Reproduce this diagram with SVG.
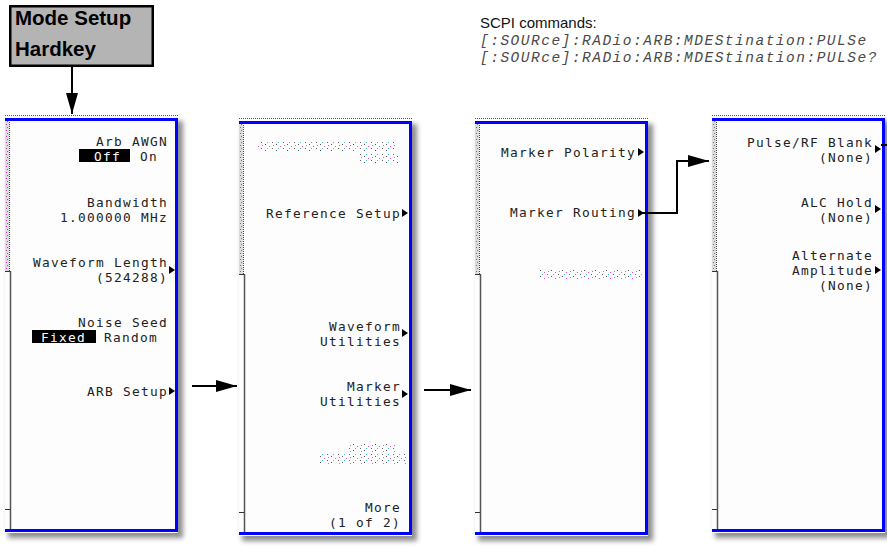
<svg xmlns="http://www.w3.org/2000/svg" width="887" height="546" viewBox="0 0 887 546">
<style>
.k{font-family:"DejaVu Sans Mono","Liberation Mono",monospace;font-size:12.8px;letter-spacing:1.3px;fill:#222;text-anchor:end}
.s{text-anchor:start}
.inv{fill:#fff}
.hk{font-family:"Liberation Sans",Arial,sans-serif;font-weight:bold;font-size:20.5px;fill:#000}
.scpi{font-family:"Liberation Sans",Arial,sans-serif;font-size:15px;fill:#111}
.cmd{font-family:"Liberation Mono","Courier New",monospace;font-style:italic;font-size:14.5px;letter-spacing:1.5px;fill:#4a4a4a}
.conn{fill:none;stroke:#000;stroke-width:2}
</style>
<defs>
<filter id="blur" x="-10%" y="-10%" width="120%" height="120%"><feGaussianBlur stdDeviation="2.5"/></filter>
<pattern id="dots" width="4" height="6" patternUnits="userSpaceOnUse">
<rect width="4" height="6" fill="#dcdcdc"/>
<rect x="1" y="0" width="1" height="1" fill="#c040c0"/>
<rect x="2" y="3" width="1" height="1" fill="#40a040"/>
</pattern>
<pattern id="garble" width="11" height="6" patternUnits="userSpaceOnUse">
<rect x="1" y="0" width="1" height="1" fill="#555"/>
<rect x="5" y="2" width="1" height="1" fill="#e050e0"/>
<rect x="9" y="1" width="1" height="1" fill="#50c050"/>
<rect x="3" y="4" width="1" height="1" fill="#40c8c8"/>
<rect x="8" y="4" width="1" height="1" fill="#666"/>
</pattern>
<path id="tri" d="M0 -4 L6 0 L0 4 Z" fill="#000"/>
<g id="frame">
<rect x="3" y="3" width="175" height="417" fill="#666" opacity="0.75" filter="url(#blur)"/>
<rect x="0" y="-3" width="173" height="418" fill="#fdfdfd"/>
<line x1="0" y1="-2.5" x2="173" y2="-2.5" stroke="#555" stroke-dasharray="1 1"/>
<rect x="0" y="0" width="4" height="153" fill="url(#dots)"/>
<line x1="4.5" y1="0" x2="4.5" y2="153" stroke="#444" stroke-dasharray="1 1"/>
<line x1="5.5" y1="153" x2="5.5" y2="413" stroke="#555" stroke-width="1.5"/>
<line x1="0" y1="153.5" x2="5" y2="153.5" stroke="#333"/>
<line x1="0" y1="391.5" x2="5" y2="391.5" stroke="#333"/>
<path d="M0 1.5 H171.5 V412.5 H0" fill="none" stroke="#0000ff" stroke-width="3"/>
</g>
<marker id="ah" markerUnits="userSpaceOnUse" markerWidth="21" markerHeight="12" refX="21" refY="6" orient="auto">
<path d="M0 0 L21 6 L0 12 Z" fill="#000"/>
</marker>
</defs>
<rect width="887" height="546" fill="#fff"/>

<g id="hardkey">
<rect x="10.25" y="6.25" width="142.5" height="59.5" fill="#b4b4b4" stroke="#000" stroke-width="2.5"/>
<text class="hk"><tspan x="15" y="25">Mode Setup</tspan><tspan x="15" y="56">Hardkey</tspan></text>
</g>

<g id="scpi">
<text class="scpi" x="480" y="28">SCPI commands:</text>
<text class="cmd" x="480" y="45">[:SOURce]:RADio:ARB:MDEStination:PULSe</text>
<text class="cmd" x="480" y="62">[:SOURce]:RADio:ARB:MDEStination:PULSe?</text>
</g>

<g id="panel1">
<use href="#frame" x="5" y="118"/>
<rect x="79" y="149" width="51" height="13" fill="#000"/>
<text class="k" x="168" y="146">Arb AWGN</text>
<text class="k s inv" x="94" y="161">Off</text>
<text class="k s" x="140" y="161">On</text>
<text class="k" x="168" y="207">Bandwidth</text>
<text class="k" x="168" y="222">1.000000 MHz</text>
<text class="k" x="168" y="267">Waveform Length</text>
<text class="k" x="168" y="282">(524288)</text>
<use href="#tri" x="169" y="270"/>
<text class="k" x="168" y="327">Noise Seed</text>
<rect x="32" y="330" width="64" height="13" fill="#000"/>
<text class="k s inv" x="41" y="342">Fixed</text>
<text class="k s" x="104" y="342">Random</text>
<text class="k" x="168" y="396">ARB Setup</text>
<use href="#tri" x="169" y="391"/>
</g>

<g id="panel2">
<use href="#frame" x="239" y="121"/>
<rect x="257" y="142" width="140" height="9" fill="url(#garble)"/>
<rect x="358" y="153" width="40" height="10" fill="url(#garble)"/>
<text class="k" x="401" y="218">Reference Setup</text>
<use href="#tri" x="402" y="213"/>
<text class="k" x="401" y="331">Waveform</text>
<text class="k" x="401" y="346">Utilities</text>
<use href="#tri" x="402" y="333"/>
<text class="k" x="401" y="391">Marker</text>
<text class="k" x="401" y="406">Utilities</text>
<use href="#tri" x="402" y="394"/>
<rect x="347" y="443" width="50" height="9" fill="url(#garble)"/>
<rect x="320" y="454" width="88" height="10" fill="url(#garble)"/>
<text class="k" x="401" y="512">More</text>
<text class="k" x="401" y="527">(1 of 2)</text>
</g>

<g id="panel3">
<use href="#frame" x="475" y="121"/>
<text class="k" x="636" y="157">Marker Polarity</text>
<use href="#tri" x="638" y="152"/>
<text class="k" x="636" y="217">Marker Routing</text>
<use href="#tri" x="638" y="213"/>
<rect x="538" y="269" width="104" height="10" fill="url(#garble)"/>
</g>

<g id="panel4">
<use href="#frame" x="712" y="118"/>
<text class="k" x="873" y="147">Pulse/RF Blank</text>
<text class="k" x="873" y="162">(None)</text>
<use href="#tri" x="875" y="149"/>
<text class="k" x="873" y="207">ALC Hold</text>
<text class="k" x="873" y="222">(None)</text>
<use href="#tri" x="875" y="209"/>
<text class="k" x="873" y="260">Alternate</text>
<text class="k" x="873" y="275">Amplitude</text>
<text class="k" x="873" y="290">(None)</text>
<use href="#tri" x="875" y="270"/>
</g>

<g id="connectors">
<path class="conn" d="M72 67 V114" marker-end="url(#ah)"/>
<path class="conn" d="M192 386 H237" marker-end="url(#ah)"/>
<path class="conn" d="M424 390 H471" marker-end="url(#ah)"/>
<path class="conn" d="M642 213 H677 V161 H709" marker-end="url(#ah)"/>
<path class="conn" d="M881 145 H887"/>
</g>
</svg>
